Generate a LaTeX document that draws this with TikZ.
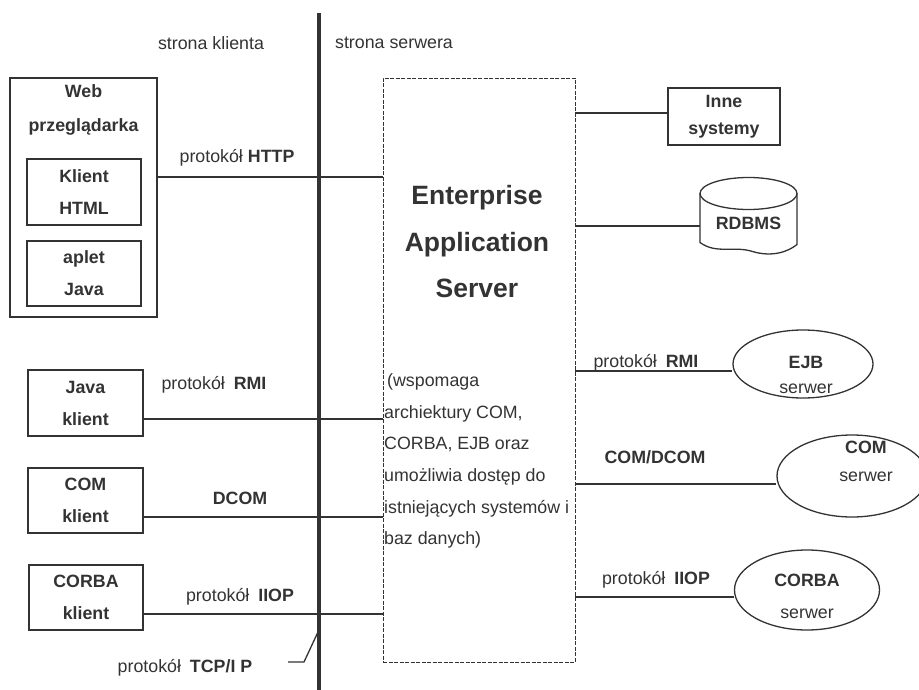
\documentclass[tikz,border=0pt]{standalone}
\usepackage{fontspec}
\setmainfont{Liberation Sans}
\usepackage{xcolor}
\usepackage{tikz}
\usetikzlibrary{shapes,positioning}
\definecolor{ink}{gray}{0.2}
\tikzset{box/.style={rectangle,draw,line width=1.1pt,inner sep=0pt,minimum width=115pt,minimum height=66pt,align=center,font=\bfseries\fontsize{17.8}{32}\selectfont},
  oval/.style={ellipse,draw,line width=1.3pt,inner sep=0pt},
  lbl/.style={inner sep=0pt,align=center,font=\fontsize{17.8}{21}\selectfont},
  link/.style={line width=1.8pt}}

\begin{document}
\begin{tikzpicture}[x=1pt,y=-1pt,color=ink,text=ink]
        \useasboundingbox (0,0) rectangle (919,690);
        % client side
        \node[box,minimum width=147pt,minimum height=239pt] (web) at (83.5,197.5) {};
        \node[lbl,font=\bfseries\fontsize{17.8}{34}\selectfont] (webt) at (83.5,110) {Web\\przeglądarka};
        \node[box,minimum width=114pt] (html) at (84,192) {Klient\\HTML};
        \node[box,minimum width=114pt,minimum height=65pt] (aplet) at (84,273.5) {aplet\\Java};
        \node[box] (java) at (85.5,403) {Java\\klient};
        \node[box,minimum height=65pt] (com) at (85.5,500.5) {COM\\klient};
        \node[box,minimum width=114pt,minimum height=65pt] (corba) at (86,597.5) {CORBA\\klient};

        % server
        \node[rectangle,draw,line width=0.8pt,dash pattern=on 4pt off 1.5pt,minimum width=192pt,minimum height=584pt] (eas) at (479,370) {};
        \node[lbl,font=\bfseries\fontsize{26.5}{46.5}\selectfont] (east) at (477,242) {Enterprise\\Application\\Server};
        \node[lbl,anchor=west,align=left,font=\fontsize{17.8}{31.6}\selectfont] (easd) at (384,461)
            {\hspace{3pt}(wspomaga\\archiektury COM,\\CORBA, EJB oraz\\umożliwia dostęp do\\istniejących systemów i\\baz danych)};

        \node[box,minimum width=112pt,minimum height=57pt,font=\bfseries\fontsize{17.8}{27}\selectfont] (inne) at (724,116.5) {Inne\\systemy};
        \node[inner sep=0pt,minimum width=97pt,minimum height=75pt] (db) at (748.5,214.5) {};
        \node[oval,minimum width=140pt,minimum height=68pt] (ejb) at (803,364) {};
        \node[oval,minimum width=150pt,minimum height=82pt] (coms) at (852,476) {};
        \node[oval,minimum width=145pt,minimum height=80pt] (corbas) at (807,590) {};

        % cylinder
        \begin{scope}[shift={(db.center)},line width=1.3pt]
            \draw (0,-21) ellipse [x radius=48.5pt,y radius=16pt];
            \draw (-48.5,-21) -- (-48.5,28) .. controls (-32,40) and (-15,31) .. (4,37)
                .. controls (24,43) and (40,37) .. (48.5,30) -- (48.5,-21);
        \end{scope}
        \node[lbl,font=\bfseries\fontsize{17.8}{21}\selectfont] (dbt) at (748.5,223) {RDBMS};
        \node[lbl,font=\fontsize{17.8}{25}\selectfont] (ejbt) at (806,375) {\textbf{EJB}\\serwer};
        \node[lbl,font=\fontsize{17.8}{28}\selectfont] (comst) at (866,461) {\textbf{COM}\\serwer};
        \node[lbl,font=\fontsize{17.8}{32}\selectfont] (corbast) at (807,596) {\textbf{CORBA}\\serwer};

        % border between client and server
        \coordinate (top) at (319,13);
        \coordinate (bot) at (319,690);
        \draw [line width=3.6pt] (top) to (bot);
        \node[lbl] (kl) at (211,43) {strona klienta};
        \node[lbl] (sv) at (394,43) {strona serwera};

        % protocols
        \draw [link] (web.east |- 0,177) to (eas.west |- 0,177);
        \draw [link] (java.east |- 0,419) to (eas.west |- 0,419);
        \draw [link] (com.east |- 0,517) to (eas.west |- 0,517);
        \draw [link] (corba.east |- 0,614) to (eas.west |- 0,614);
        \draw [link] (eas.east |- 0,113) to (inne.west |- 0,113);
        \draw [link] (eas.east |- 0,226) to (db.west |- 0,226);
        \draw [link] (eas.east |- 0,371) to (ejb.west |- 0,371);
        \draw [link] (eas.east |- 0,484) to (coms.west |- 0,484);
        \draw [link] (eas.east |- 0,597) to (corbas.west |- 0,597);

        \node[lbl] (http) at (237,158) {protokół \textbf{HTTP}};
        \node[lbl] (rmi) at (214,385) {protokół\hspace{0.5em}\textbf{RMI}};
        \node[lbl] (dcom) at (240,498) {\textbf{DCOM}};
        \node[lbl] (iiop) at (240,597) {protokół\hspace{0.5em}\textbf{IIOP}};
        \node[lbl] (rmis) at (646,363) {protokół\hspace{0.5em}\textbf{RMI}};
        \node[lbl] (comdcom) at (655,457) {\textbf{COM/DCOM}};
        \node[lbl] (iiops) at (656,580) {protokół\hspace{0.5em}\textbf{IIOP}};
        \node[lbl] (tcp) at (185,668) {protokół\hspace{0.5em}\textbf{TCP/I P}};
        \coordinate (tcpa) at (288,662);
        \coordinate (tcpb) at (318,632);
        \draw [line width=1.3pt] (tcpa) -- ++(16,0) -- (tcpb);
\end{tikzpicture}
\end{document}
